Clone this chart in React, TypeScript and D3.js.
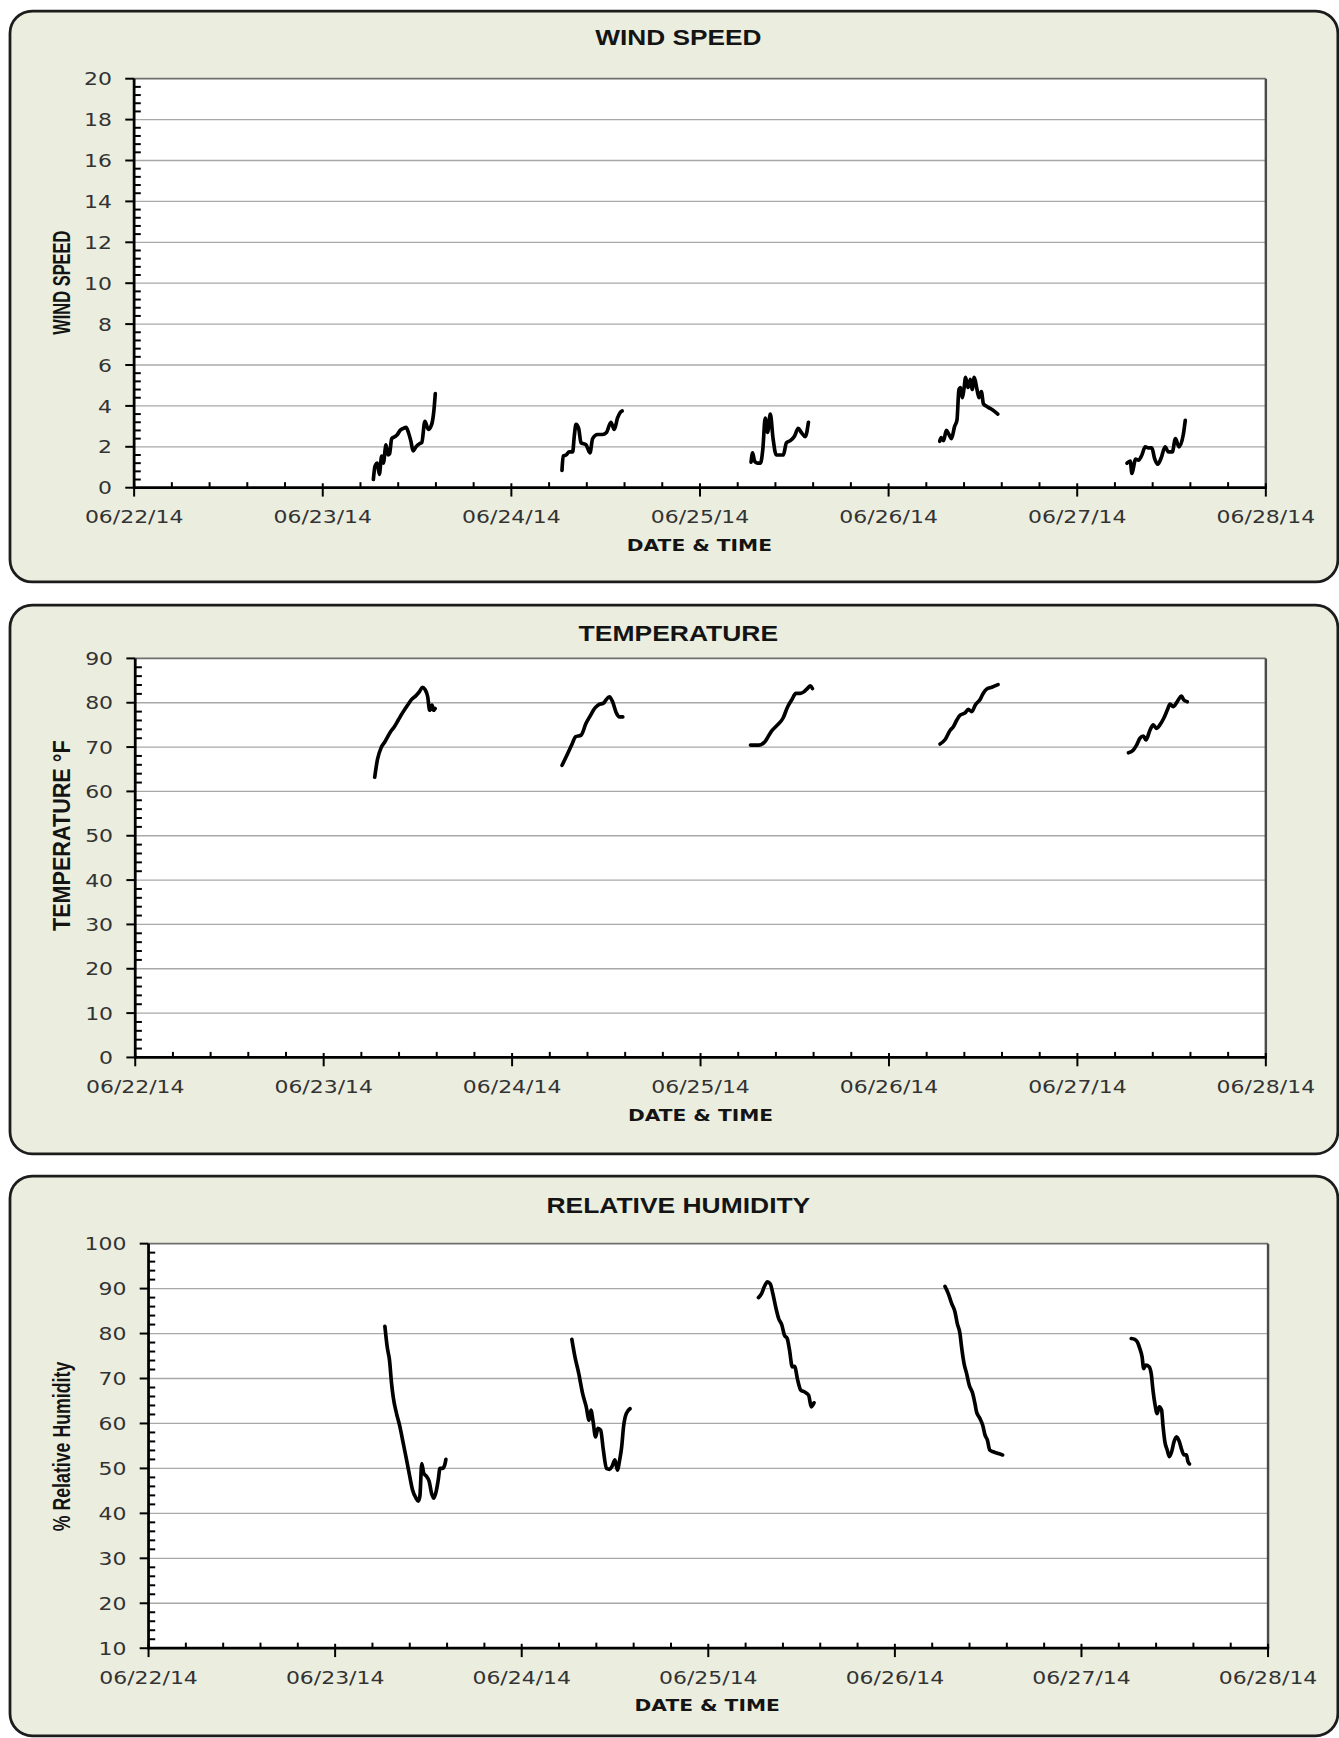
import * as d3 from "d3";

// drawing units (the svg is scaled up to the 1339x1738 page)
const VW = 1208;
const VH = 1568;

const dateTicks = [
  "2014-06-22",
  "2014-06-23",
  "2014-06-24",
  "2014-06-25",
  "2014-06-26",
  "2014-06-27",
  "2014-06-28",
];
const sampleDays = ["2014-06-23", "2014-06-24", "2014-06-25", "2014-06-26", "2014-06-27"];

const windTicks = [0, 2, 4, 6, 8, 10, 12, 14, 16, 18, 20];
const tempTicks = [0, 10, 20, 30, 40, 50, 60, 70, 80, 90];
const humidityTicks = [10, 20, 30, 40, 50, 60, 70, 80, 90, 100];

// [hour of day, value]
const windJun23 = [[6.44, 0.4], [6.65, 1.05], [6.95, 1.2], [7.2, 0.65], [7.5, 1.55], [7.71, 1.2], [8.05, 2.1], [8.3, 1.6], [8.5, 1.65], [8.77, 2.4], [9.2, 2.5], [9.5, 2.6], [9.83, 2.8], [10.25, 2.9], [10.6, 2.95], [10.9, 2.7], [11.2, 2.3], [11.5, 1.8], [11.86, 2.0], [12.3, 2.15], [12.6, 2.2], [13.0, 3.25], [13.43, 2.85], [13.86, 3.1], [14.15, 3.8], [14.32, 4.6]];
const windJun24 = [[6.44, 0.85], [6.6, 1.55], [6.95, 1.6], [7.37, 1.75], [7.8, 1.75], [8.0, 2.5], [8.22, 3.1], [8.56, 2.9], [8.86, 2.2], [9.5, 2.1], [10.0, 1.7], [10.34, 2.4], [10.97, 2.6], [11.6, 2.6], [12.1, 2.7], [12.66, 3.2], [13.1, 2.85], [13.5, 3.4], [13.9, 3.7], [14.1, 3.75]];
const windJun25 = [[6.5, 1.25], [6.7, 1.7], [6.95, 1.3], [7.3, 1.2], [7.7, 1.2], [8.0, 1.9], [8.3, 3.4], [8.6, 2.7], [8.95, 3.6], [9.3, 2.4], [9.7, 1.6], [10.1, 1.6], [10.6, 1.6], [11.0, 2.2], [11.5, 2.3], [12.0, 2.5], [12.5, 2.9], [12.9, 2.7], [13.4, 2.5], [13.8, 3.2]];
const windJun26 = [[6.5, 2.27], [6.7, 2.45], [7.0, 2.3], [7.34, 2.8], [7.68, 2.6], [8.0, 2.4], [8.4, 3.0], [8.7, 3.3], [8.95, 4.8], [9.16, 4.9], [9.37, 4.4], [9.58, 4.8], [9.8, 5.4], [10.1, 4.9], [10.4, 5.3], [10.63, 4.8], [10.9, 5.4], [11.2, 4.9], [11.5, 4.4], [11.8, 4.7], [12.07, 4.1], [12.6, 3.95], [13.25, 3.8], [13.9, 3.6]];
const windJun27 = [[6.33, 1.2], [6.75, 1.3], [6.96, 0.7], [7.17, 1.0], [7.4, 1.4], [7.8, 1.35], [8.23, 1.6], [8.65, 2.0], [9.07, 1.95], [9.5, 1.95], [9.83, 1.45], [10.25, 1.15], [10.68, 1.45], [11.18, 2.0], [11.6, 1.75], [12.1, 1.75], [12.5, 2.4], [12.95, 2.0], [13.5, 2.6], [13.75, 3.3]];

const tempJun23 = [[6.5, 63.2], [6.84, 67.1], [7.33, 69.9], [7.8, 71.2], [8.54, 73.5], [9.0, 74.6], [9.5, 76.1], [10.0, 77.6], [10.7, 79.5], [11.2, 80.75], [11.7, 81.5], [12.2, 82.5], [12.57, 83.5], [12.9, 83.0], [13.25, 81.35], [13.5, 78.3], [13.8, 79.5], [14.0, 78.3], [14.2, 78.7]];
const tempJun24 = [[6.36, 65.9], [7.1, 68.6], [7.67, 70.8], [8.06, 72.3], [8.8, 72.7], [9.4, 75.3], [10.0, 77.2], [10.5, 78.7], [10.97, 79.5], [11.7, 80], [11.94, 80.6], [12.4, 81.35], [12.8, 80.2], [13.3, 77.6], [13.64, 76.8], [14.1, 76.8]];
const tempJun25 = [[6.36, 70.45], [7.4, 70.45], [8.2, 71.2], [9.0, 73.5], [9.8, 75.0], [10.5, 76.5], [11.1, 79.1], [11.6, 80.6], [12.15, 82.1], [12.7, 82.1], [13.2, 82.5], [13.6, 83.2], [14.0, 83.8], [14.25, 83.2]];
const tempJun26 = [[6.5, 70.7], [7.16, 71.7], [7.8, 73.8], [8.2, 74.6], [8.64, 76.1], [9.07, 77.2], [9.7, 77.7], [10.1, 78.5], [10.55, 78.0], [11.0, 79.5], [11.6, 80.75], [12.0, 82.1], [12.4, 83.0], [13.1, 83.5], [13.9, 84.1]];
const tempJun27 = [[6.5, 68.7], [7.1, 69.3], [7.54, 70.45], [7.97, 72.0], [8.4, 72.5], [8.73, 71.6], [9.24, 73.8], [9.66, 75.0], [10.1, 74.2], [10.5, 75.0], [11.0, 76.5], [11.44, 78.3], [11.8, 79.7], [12.2, 79.1], [12.7, 80.2], [13.26, 81.5], [13.56, 80.6], [14.0, 80.2]];

const rhJun23 = [[6.4, 81.6], [6.7, 77], [7.0, 74], [7.26, 68.9], [7.47, 65.9], [7.9, 62.2], [8.33, 59.3], [8.76, 55.6], [9.19, 51.9], [9.6, 48.2], [9.96, 45.2], [10.4, 43.4], [10.7, 42.7], [10.9, 43.8], [11.15, 51.1], [11.4, 48.9], [11.76, 48.2], [12.1, 47.1], [12.4, 44.5], [12.7, 43.4], [13.0, 44.9], [13.27, 47.5], [13.48, 50.0], [13.8, 50.0], [14.1, 50.8], [14.25, 52.0]];
const rhJun24 = [[6.45, 78.7], [6.85, 74.8], [7.34, 71.1], [7.83, 66.7], [8.3, 63.7], [8.67, 60.7], [8.9, 63.0], [9.16, 60.7], [9.5, 57.0], [9.8, 58.9], [10.15, 58.5], [10.5, 54.1], [10.9, 50.0], [11.3, 49.8], [11.6, 50.4], [12.0, 51.9], [12.3, 49.6], [12.6, 51.9], [12.86, 54.8], [13.1, 59.3], [13.45, 62.2], [13.94, 63.3]];
const rhJun25 = [[6.45, 88.0], [6.85, 88.9], [7.2, 90.4], [7.6, 91.5], [7.98, 91.0], [8.3, 88.9], [8.67, 85.9], [9.06, 83.3], [9.46, 81.9], [9.8, 79.6], [10.15, 78.9], [10.45, 76.3], [10.8, 72.6], [11.1, 72.7], [11.5, 69.6], [11.9, 67.4], [12.4, 67.0], [12.9, 66.3], [13.25, 63.7], [13.6, 64.6]];
const rhJun26 = [[6.44, 90.5], [6.87, 88.9], [7.3, 86.7], [7.73, 84.8], [8.03, 82.2], [8.37, 80.0], [8.58, 77], [8.9, 73.3], [9.23, 71.1], [9.57, 68.5], [10.0, 66.7], [10.3, 64.4], [10.5, 62.6], [10.94, 61.1], [11.3, 59.6], [11.6, 57.4], [11.9, 56.3], [12.2, 54.1], [12.66, 53.7], [13.3, 53.3], [13.86, 53.0]];
const rhJun27 = [[6.4, 78.9], [6.85, 78.7], [7.2, 78.1], [7.5, 76.7], [7.8, 74.8], [8.0, 72.2], [8.28, 73.0], [8.7, 72.6], [9.0, 70.7], [9.2, 67.4], [9.44, 64.4], [9.74, 62.2], [10.0, 63.7], [10.3, 63.0], [10.5, 59.3], [10.73, 55.9], [11.03, 54.1], [11.3, 52.6], [11.6, 53.7], [11.9, 55.9], [12.23, 57.0], [12.6, 55.9], [12.9, 54.1], [13.2, 53.0], [13.5, 53.0], [13.7, 51.5], [13.9, 51.0]];

const parseDay = d3.timeParse("%Y-%m-%d");
const fmtDate = d3.timeFormat("%m/%d/%y");

type Pt = { t: Date; v: number };

function toPoints(day: string, rows: number[][]): Pt[] {
  const base = parseDay(day)!;
  return rows.map(([h, v]) => ({ t: new Date(base.getTime() + h * 3600000), v }));
}

const panels = [
  {
    title: "WIND SPEED",
    titleLen: 150,
    yTitle: "WIND SPEED",
    yTitleLen: 94,
    ticks: windTicks,
    minorStep: 0.4,
    series: [windJun23, windJun24, windJun25, windJun26, windJun27],
    box: { top: 10, bottom: 525 },
    plot: { left: 121, right: 1142, top: 71, bottom: 440 },
    titleY: 41,
    yTitleY: 255,
    xTitleX: 631,
  },
  {
    title: "TEMPERATURE",
    titleLen: 180,
    yTitle: "TEMPERATURE °F",
    yTitleLen: 172,
    ticks: tempTicks,
    minorStep: 2,
    series: [tempJun23, tempJun24, tempJun25, tempJun26, tempJun27],
    box: { top: 546, bottom: 1041 },
    plot: { left: 122, right: 1142, top: 594, bottom: 954 },
    titleY: 578,
    yTitleY: 754,
    xTitleX: 632,
  },
  {
    title: "RELATIVE HUMIDITY",
    titleLen: 238,
    yTitle: "% Relative Humidity",
    yTitleLen: 153,
    ticks: humidityTicks,
    minorStep: 2,
    series: [rhJun23, rhJun24, rhJun25, rhJun26, rhJun27],
    box: { top: 1061, bottom: 1566 },
    plot: { left: 134, right: 1144, top: 1122, bottom: 1487 },
    titleY: 1094,
    yTitleY: 1305,
    xTitleX: 638,
  },
];

type PanelCfg = (typeof panels)[number];

function Panel({ cfg }: { cfg: PanelCfg }) {
  const { plot, box, ticks } = cfg;
  const days = dateTicks.map((d) => parseDay(d)!);
  const x = d3
    .scaleTime()
    .domain([days[0], days[days.length - 1]])
    .range([plot.left, plot.right]);
  const [y0, y1] = d3.extent(ticks) as [number, number];
  const y = d3.scaleLinear().domain([y0, y1]).range([plot.bottom, plot.top]);

  const line = d3
    .line<Pt>()
    .x((d) => x(d.t))
    .y((d) => y(d.v))
    .curve(d3.curveMonotoneX);

  const minorX = days
    .slice(0, -1)
    .flatMap((d) => [1, 2, 3, 4].map((k) => new Date(d.getTime() + k * 0.2 * 86400000)));
  const nMinor = Math.round((y1 - y0) / cfg.minorStep);
  const minorY = d3
    .range(1, nMinor)
    .filter((i) => i % 5 !== 0)
    .map((i) => y0 + i * cfg.minorStep);

  const tickFont = "'DejaVu Sans', Verdana, sans-serif";

  return (
    <g>
      <rect
        x={9}
        y={box.top}
        width={1198}
        height={box.bottom - box.top}
        rx={20}
        fill="#ebeedf"
        stroke="#1c1c1c"
        strokeWidth={2.5}
      />
      <text
        x={612}
        y={cfg.titleY}
        textAnchor="middle"
        fontFamily="'Liberation Sans', Arial, sans-serif"
        fontWeight="bold"
        fontSize={20}
        textLength={cfg.titleLen}
        lengthAdjust="spacingAndGlyphs"
        fill="#141414"
      >
        {cfg.title}
      </text>

      <rect
        x={plot.left}
        y={plot.top}
        width={plot.right - plot.left}
        height={plot.bottom - plot.top}
        fill="#ffffff"
      />
      {ticks.slice(1).map((t) => (
        <line
          key={"g" + t}
          x1={plot.left}
          x2={plot.right}
          y1={y(t)}
          y2={y(t)}
          stroke={t === y1 ? "#6e6e6e" : "#a8a8a8"}
          strokeWidth={t === y1 ? 1.6 : 1.2}
        />
      ))}
      <line
        x1={plot.right}
        x2={plot.right}
        y1={plot.top}
        y2={plot.bottom}
        stroke="#4a4a4a"
        strokeWidth={2.2}
      />

      {cfg.series.map((rows, i) => (
        <path
          key={sampleDays[i]}
          d={line(toPoints(sampleDays[i], rows)) ?? ""}
          fill="none"
          stroke="#000"
          strokeWidth={3.3}
          strokeLinejoin="round"
          strokeLinecap="round"
        />
      ))}

      {/* y axis */}
      <line x1={plot.left} x2={plot.left} y1={plot.top} y2={plot.bottom + 1} stroke="#000" strokeWidth={2.5} />
      {minorY.map((v) => (
        <line key={"my" + v} x1={plot.left} x2={plot.left + 6} y1={y(v)} y2={y(v)} stroke="#000" strokeWidth={1.8} />
      ))}
      {ticks.map((t) => (
        <g key={"y" + t}>
          <line x1={plot.left - 8} x2={plot.left} y1={y(t)} y2={y(t)} stroke="#000" strokeWidth={1.8} />
          <text
            transform={`translate(${plot.left - 20},${y(t) + 6}) scale(1.2,1)`}
            textAnchor="end"
            fontFamily={tickFont}
            fontSize={16.5}
            fill="#333"
          >
            {t}
          </text>
        </g>
      ))}

      {/* x axis */}
      <line x1={plot.left - 1} x2={plot.right + 1} y1={plot.bottom} y2={plot.bottom} stroke="#000" strokeWidth={2.5} />
      {minorX.map((d) => (
        <line
          key={"mx" + d.getTime()}
          x1={x(d)}
          x2={x(d)}
          y1={plot.bottom - 5}
          y2={plot.bottom}
          stroke="#000"
          strokeWidth={1.8}
        />
      ))}
      {days.map((d) => (
        <g key={"x" + d.getTime()}>
          <line x1={x(d)} x2={x(d)} y1={plot.bottom - 4} y2={plot.bottom + 8} stroke="#000" strokeWidth={1.8} />
          <text
            transform={`translate(${x(d)},${plot.bottom + 32}) scale(1.2,1)`}
            textAnchor="middle"
            fontFamily={tickFont}
            fontSize={16.5}
            fill="#333"
          >
            {fmtDate(d)}
          </text>
        </g>
      ))}

      <text
        x={cfg.xTitleX}
        y={plot.bottom + 57}
        textAnchor="middle"
        fontFamily={tickFont}
        fontWeight="bold"
        fontSize={15}
        textLength={131}
        lengthAdjust="spacingAndGlyphs"
        fill="#141414"
      >
        DATE &amp; TIME
      </text>
      <text
        transform={`translate(63,${cfg.yTitleY}) rotate(-90)`}
        textAnchor="middle"
        fontFamily="'Liberation Sans Narrow', 'Liberation Sans', Arial, sans-serif"
        fontWeight="bold"
        fontSize={21.5}
        textLength={cfg.yTitleLen}
        lengthAdjust="spacingAndGlyphs"
        fill="#141414"
      >
        {cfg.yTitle}
      </text>
    </g>
  );
}

export default function App() {
  return (
    <div style={{ position: "absolute", left: 0, top: 0, background: "#fff" }}>
      <svg width={1339} height={1738} viewBox={`0 0 ${VW} ${VH}`} style={{ display: "block" }}>
        <rect width={VW} height={VH} fill="#fff" />
        {panels.map((p) => (
          <Panel key={p.title} cfg={p} />
        ))}
      </svg>
    </div>
  );
}
